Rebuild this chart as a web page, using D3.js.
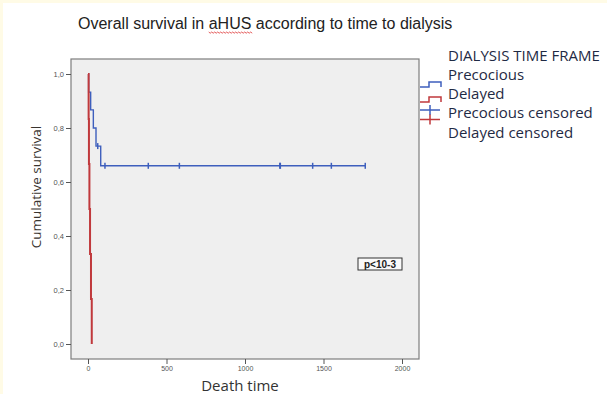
<!DOCTYPE html>
<html><head><meta charset="utf-8">
<script src="https://cdn.jsdelivr.net/npm/d3@7"></script>
<style>html,body{margin:0;padding:0;background:#fff;}svg{display:block;}</style>
</head><body>
<svg id="c" width="607" height="394"></svg>
<script>
// ---- data ----
const title = "Overall survival in aHUS according to time to dialysis";
const xLabel = "Death time";
const yLabel = "Cumulative survival";
const xTicks = [0, 500, 1000, 1500, 2000];
const yTicks = [0, 0.2, 0.4, 0.6, 0.8, 1.0];
const legendTitle = "DIALYSIS TIME FRAME";
const legendItems = ["Precocious", "Delayed", "Precocious censored", "Delayed censored"];
// step points [time, survival]
const precociousSteps = [[0,1],[4,0.933],[17,0.867],[34,0.8],[51,0.733],[81,0.66],[1766,0.66]];
const precociousCensored = [62, 108, 384, 582, 1222, 1225, 1431, 1550, 1766];
const delayedSteps = [[0,1],[4,0.833],[6,0.667],[9,0.5],[13,0.333],[19,0.167],[24,0]];
const pValueText = "p<10-3";

// ---- chart ----
const svg = d3.select("#c");
const blue = "#3e5fbd", red = "#c0393c";
// cream edge
svg.append("rect").attr("x",0).attr("y",0).attr("width",607).attr("height",394).attr("fill","#fffbe6");
svg.append("rect").attr("x",3).attr("y",3).attr("width",604).attr("height",391).attr("fill","#ffffff");

const x = d3.scaleLinear().domain([0,2000]).range([88,402]);
const y = d3.scaleLinear().domain([0,1]).range([344,74]);
const box = {l:71, t:59, r:419, b:359};

svg.append("rect").attr("x",box.l).attr("y",box.t).attr("width",box.r-box.l).attr("height",box.b-box.t)
  .attr("fill","#efefef").attr("stroke","#7d7d7d").attr("stroke-width",1.2);

const tickFont = "Liberation Sans, Arial, sans-serif";
// y axis
const yAxis = d3.axisLeft(y).tickValues(yTicks).tickSize(5).tickPadding(2)
  .tickFormat(d => d3.format(".1f")(d).replace(".", ","));
const gy = svg.append("g").attr("transform",`translate(${box.l},0)`).call(yAxis);
gy.select(".domain").remove();
gy.selectAll(".tick line").attr("stroke","#555");
gy.selectAll(".tick text").attr("font-family",tickFont).attr("font-size",7.5).attr("fill","#555");

// x axis
const xAxis = d3.axisBottom(x).tickValues(xTicks).tickSize(5).tickPadding(2).tickFormat(d3.format("d"));
const gx = svg.append("g").attr("transform",`translate(0,${box.b})`).call(xAxis);
gx.select(".domain").remove();
gx.selectAll(".tick line").attr("stroke","#555");
gx.selectAll(".tick text").attr("font-family",tickFont).attr("font-size",7).attr("fill","#555");

// step lines
const stepLine = d3.line().x(d => x(d[0])).y(d => y(d[1])).curve(d3.curveStepAfter);
function survAt(steps, t){ let s = steps[0][1]; for (const p of steps) if (p[0] <= t) s = p[1]; return s; }

svg.append("path").datum(precociousSteps).attr("d", stepLine)
  .attr("fill","none").attr("stroke",blue).attr("stroke-width",1.4);
svg.selectAll(".cens").data(precociousCensored).join("line").attr("class","cens")
  .attr("x1", d => x(d)).attr("x2", d => x(d))
  .attr("y1", d => y(survAt(precociousSteps,d)) - 3).attr("y2", d => y(survAt(precociousSteps,d)) + 3)
  .attr("stroke",blue).attr("stroke-width",1.5);
svg.append("path").datum(delayedSteps).attr("d", stepLine)
  .attr("fill","none").attr("stroke",red).attr("stroke-width",2);

// p-value box
const pg = svg.append("g");
pg.append("rect").attr("x",358).attr("y",258).attr("width",44).attr("height",12)
  .attr("fill","#fafafa").attr("stroke","#333").attr("stroke-width",1);
pg.append("text").attr("x",380).attr("y",268).attr("text-anchor","middle")
  .attr("font-family",tickFont).attr("font-size",10).attr("font-weight","bold")
  .attr("fill","#222").text(pValueText);

// title
const tx = 78, ty = 29;
const tt = svg.append("text").attr("x",tx).attr("y",ty)
  .attr("font-family","Liberation Sans, Arial, sans-serif").attr("font-size",16).attr("fill","#222").text(title);
const pre = title.indexOf("aHUS");
const tn = tt.node();
const x0 = tx + tn.getSubStringLength(0, pre);
const w = tn.getSubStringLength(pre, 4);
let wave = `M${x0},${ty+3}`;
for (let i = 0, xx = x0; xx < x0 + w; i++, xx += 1.5) wave += ` L${xx+1.5},${ty + 3 + (i%2 ? 0 : 1.2)}`;
svg.append("path").attr("d",wave).attr("fill","none").attr("stroke","#d33").attr("stroke-width",0.8);

// axis labels
const lf = "Open Sans, Noto Sans, sans-serif";
svg.append("text").attr("transform","translate(41,187) rotate(-90)").attr("text-anchor","middle")
  .attr("font-family",lf).attr("font-size",13.5).attr("fill","#3a3530").text(yLabel);
svg.append("text").attr("x",240).attr("y",391).attr("text-anchor","middle")
  .attr("font-family",lf).attr("font-size",15).attr("fill","#333").text(xLabel);

// legend
svg.append("text").attr("x",448).attr("y",61).attr("font-family",lf).attr("font-size",15).attr("fill","#1f2a44").text(legendTitle);
legendItems.forEach((t,i) => {
  svg.append("text").attr("x",448).attr("y",80 + i*19.2).attr("font-family",lf).attr("font-size",15)
    .attr("fill","#1f2a44").text(t);
});
svg.append("path").attr("d","M420,87 H429 V82 H441 V87").attr("fill","none").attr("stroke",blue).attr("stroke-width",1.5);
svg.append("path").attr("d","M420,102 H429 V97 H441 V102").attr("fill","none").attr("stroke",red).attr("stroke-width",1.5);
svg.append("path").attr("d","M420,110 H440 M430,105 V115").attr("fill","none").attr("stroke",blue).attr("stroke-width",1.5);
svg.append("path").attr("d","M420,119.5 H440 M430,114.5 V124.5").attr("fill","none").attr("stroke",red).attr("stroke-width",1.5);
</script>
</body></html>
